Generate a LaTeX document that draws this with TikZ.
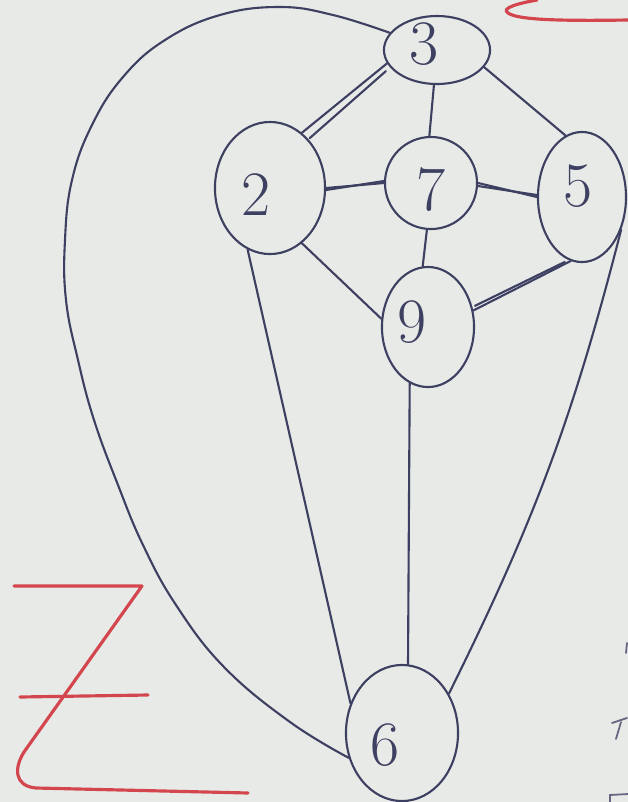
\documentclass[tikz,border=0pt]{standalone}
\usetikzlibrary{shapes.geometric}
\definecolor{ink}{RGB}{62,64,98}
\definecolor{paper}{RGB}{231,234,230}
\definecolor{redink}{RGB}{212,70,78}
\begin{document}
\begin{tikzpicture}[x=0.01cm,y=-0.01cm,
  vtx/.style={ellipse, draw=ink, line width=0.6pt, inner sep=0pt},
  edge/.style={draw=ink, line width=0.6pt, line cap=round},
  stray/.style={draw=ink!80, line width=0.5pt, line cap=round},
  redz/.style={draw=redink, line width=0.9pt, line cap=round, line join=round},
  lab/.style={text=ink, font=\fontsize{18}{18}\selectfont}]
\fill[paper] (0,0) rectangle (628,802);
\useasboundingbox (0,0) rectangle (628,802);

% vertices
\node[vtx, minimum width=1.06cm, minimum height=0.68cm] (n3) at (437,50) {};
\node[vtx, minimum width=1.10cm, minimum height=1.32cm] (n2) at (270,188) {};
\node[vtx, minimum width=0.92cm, minimum height=0.92cm] (n7) at (431,183) {};
\node[vtx, minimum width=0.88cm, minimum height=1.30cm] (n5) at (582,197) {};
\node[vtx, minimum width=0.92cm, minimum height=1.20cm] (n9) at (428,327) {};
\node[vtx, minimum width=1.12cm, minimum height=1.36cm] (n6) at (402,733) {};

% labels
\node[lab] (l3) at (424,44) {3};
\node[lab] (l2) at (256,195) {2};
\node[lab] (l7) at (431,190) {7};
\node[lab] (l5) at (578,186) {5};
\node[lab] (l9) at (412,322) {9};
\node[lab] (l6) at (385,745) {6};

% edges
\draw[edge] (n3.195) -- (n2.60);
\draw[edge] ([shift={(-4,4)}]n3.200) -- ([shift={(6,4)}]n2.58);
\draw[edge] (n3.265) -- (n7.92);
\draw[edge] (n3.-20) -- (n5.105);
\draw[edge] (n2.0) -- (n7.180);
\draw[edge] ([shift={(0,2)}]n2.0) -- ([shift={(0,-2)}]n7.180);
\draw[edge] (n2.-60) -- (n9.170);
\draw[edge] (n2.-110) -- (n6.150);
\draw[edge] (n7.0) -- (n5.180);
\draw[edge] ([shift={(0,3)}]n7.0) -- ([shift={(0,-2)}]n5.180);
\draw[edge] (n7.-95) -- (n9.95);
\draw[edge] (n5.-100) -- (n9.20);
\draw[edge] ([shift={(-6,1)}]n5.-100) -- ([shift={(2,-3)}]n9.22);
\draw[edge] (n5.-40) to[bend left=6] (n6.40);
\draw[edge] (n9.-108) -- (n6.85);
\draw[edge] plot[smooth, tension=0.7] coordinates {(n3.160) (333,15) (280,7) (220,15) (165,40) (123,77) (92,125) (72,180) (65,240) (66,300) (78,360) (94,420) (118,485) (143,545) (176,605) (224,667) (290,722) (n6.205)};

% red marks
\draw[redz] (14,586) -- (142,586) -- (24,752) .. controls (14,768) and (14,786) .. (36,788) -- (248,793);
\draw[redz] (20,697) -- (148,695);
\draw[redz] (537,0) .. controls (520,3) and (500,8) .. (508,13) .. controls (518,20) and (560,21) .. (628,20);

% stray pen marks at the right edge
\draw[stray] (612,723) -- (627,718);
\draw[stray] (621,722) -- (616,739);
\draw[stray] (627,643) -- (626,653);
\draw[stray] (610,802) -- (610,795) -- (628,794);
\end{tikzpicture}
\end{document}
